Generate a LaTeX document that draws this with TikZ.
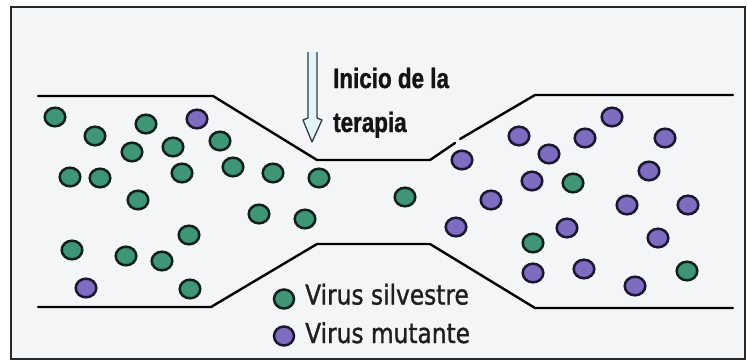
\documentclass[tikz,border=0pt]{standalone}
\usepackage{fontspec}
\newfontfamily\titlefont[FakeStretch=0.8,FakeBold=1.2]{Liberation Sans Bold}
\newfontfamily\legendfont[FakeStretch=0.85,FakeBold=1.2]{DejaVu Sans}
\definecolor{bgcol}{RGB}{243,245,247}
\definecolor{framecol}{RGB}{40,40,40}
\definecolor{wildfill}{RGB}{62,150,118}
\definecolor{wildedge}{RGB}{18,32,28}
\definecolor{mutfill}{RGB}{126,108,192}
\definecolor{mutedge}{RGB}{28,22,48}
\definecolor{arrowfill}{RGB}{226,244,248}
\definecolor{arrowedge}{RGB}{50,60,65}
\tikzset{
  tube/.style={line width=2.4pt, black, line cap=round},
  wild/.style={fill=wildfill, draw=wildedge, line width=2.5pt},
  mut/.style={fill=mutfill, draw=mutedge, line width=2.5pt},
  titletext/.style={anchor=base west, inner sep=0pt, font=\titlefont\fontsize{28}{30}\selectfont, text=black!92},
  legendtext/.style={anchor=base west, inner sep=0pt, font=\legendfont\fontsize{27.4}{30}\selectfont, text=black!88},
}
\begin{document}
\begin{tikzpicture}[x=1pt,y=-1pt]
\useasboundingbox (0,0) rectangle (747,362);
% frame
\draw[fill=bgcol, draw=framecol, line width=2.2pt] (11,7) rectangle (745,359);
% tube top
\draw[tube] (38,96) -- (213,96) -- (317,160) -- (430,160) -- (455,143);
\draw[tube] (460,139) -- (535,95) -- (733,95);
% tube bottom
\draw[tube] (38,307) -- (211,307) -- (317,244) -- (430,244) -- (535,308) -- (733,308);
% arrow
\fill[arrowfill] (308,52) -- (308,118) -- (303,120) -- (312,142) -- (322,120) -- (317,118) -- (317,52) -- cycle;
\draw[arrowedge, line width=1.3pt, line join=round] (308,52) -- (308,118) -- (303,120) -- (312,142) -- (322,120) -- (317,118) -- (317,52);
% title
\node[titletext] (t1) at (333,88) {Inicio de la};
\node[titletext] (t2) at (333,132) {terapia};
% wild-type virus
\foreach \x/\y in {55/117,95/136,146/124,132/152,173/147,220/141,70/177,100/178,182/173,233/167,138/200,72/250,126/256,162/261,189/235,190/289,273/173,319/178,405/197,259/214,305/219,573/183,533/243,687/271}
  \draw[wild] (\x,\y) ellipse (10.3pt and 9.3pt);
% mutant virus
\foreach \x/\y in {197/119,86/288,462/160,491/200,456/227,612/117,519/136,585/138,665/138,549/154,649/171,532/181,627/205,688/205,567/228,658/238,533/273,584/269,635/286}
  \draw[mut] (\x,\y) ellipse (10.3pt and 9.3pt);
% legend
\draw[wild] (284,299) ellipse (10pt and 9.5pt);
\draw[mut] (284,336) ellipse (10pt and 9.5pt);
\node[legendtext] (l1) at (305,304.5) {Virus silvestre};
\node[legendtext] (l2) at (305,343) {Virus mutante};
\end{tikzpicture}
\end{document}
